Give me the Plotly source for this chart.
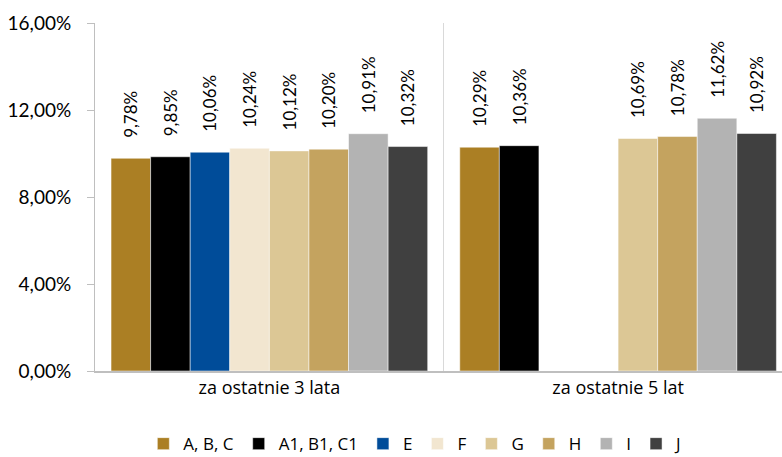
import plotly.graph_objects as go

categories = ["za ostatnie 3 lata", "za ostatnie 5 lat"]
series_names = ["A, B, C", "A1, B1, C1", "E", "F", "G", "H", "I", "J"]
values_3y = [9.78, 9.85, 10.06, 10.24, 10.12, 10.20, 10.91, 10.32]
values_5y = [10.29, 10.36, None, None, 10.69, 10.78, 11.62, 10.92]
colors = ["#ab7f24", "#000000", "#004c99", "#f2e6d0", "#dcc795", "#c4a35f", "#b3b3b3", "#404040"]
y_ticks = [0, 4, 8, 12, 16]

PAD = "\u00a0" * 4

def fmt(v):
    return "" if v is None else PAD + f"{v:.2f}%".replace(".", ",")

fig = go.Figure()
for i, name in enumerate(series_names):
    vals = [values_3y[i], values_5y[i]]
    fig.add_trace(go.Bar(
        name=name, x=categories, y=vals,
        marker=dict(color=colors[i], line=dict(color="white", width=0.5)),
        text=[fmt(v) for v in vals],
        textposition="outside", textangle=-90, constraintext="none",
        textfont=dict(family="Lato", size=17, color="#000000"),
        cliponaxis=False,
    ))

fig.update_layout(
    width=782, height=457,
    margin=dict(l=95, r=0, t=23, b=86, autoexpand=False),
    paper_bgcolor="white", plot_bgcolor="white",
    barmode="group", bargap=0.092, bargroupgap=0,
    font=dict(family="Open Sans", size=17, color="#000000"),
    legend=dict(orientation="h", x=0.467, xanchor="center", y=-0.21, yanchor="middle",
                font=dict(family="Open Sans", size=17), itemwidth=30, traceorder="normal"),
    xaxis=dict(range=[-0.5, 1.47], tickson="boundaries", showgrid=True,
               gridcolor="#d9d9d9", gridwidth=1, ticks="", showline=True,
               linecolor="#bfbfbf", linewidth=1.5, tickfont=dict(family="Open Sans", size=18),
               automargin=False),
    yaxis=dict(range=[0, 16], tickvals=y_ticks,
               ticktext=[f"{v:.2f}%".replace(".", ",") for v in y_ticks],
               showgrid=False, showline=True, linecolor="#bfbfbf",
               ticks="outside", ticklen=7, tickcolor="#bfbfbf", zeroline=False,
               ticklabelstandoff=12,
               tickfont=dict(family="Lato", size=19), automargin=False),
)

fig.write_html("out.html", config={"displayModeBar": False},
               post_script="document.body.style.margin='0';")
